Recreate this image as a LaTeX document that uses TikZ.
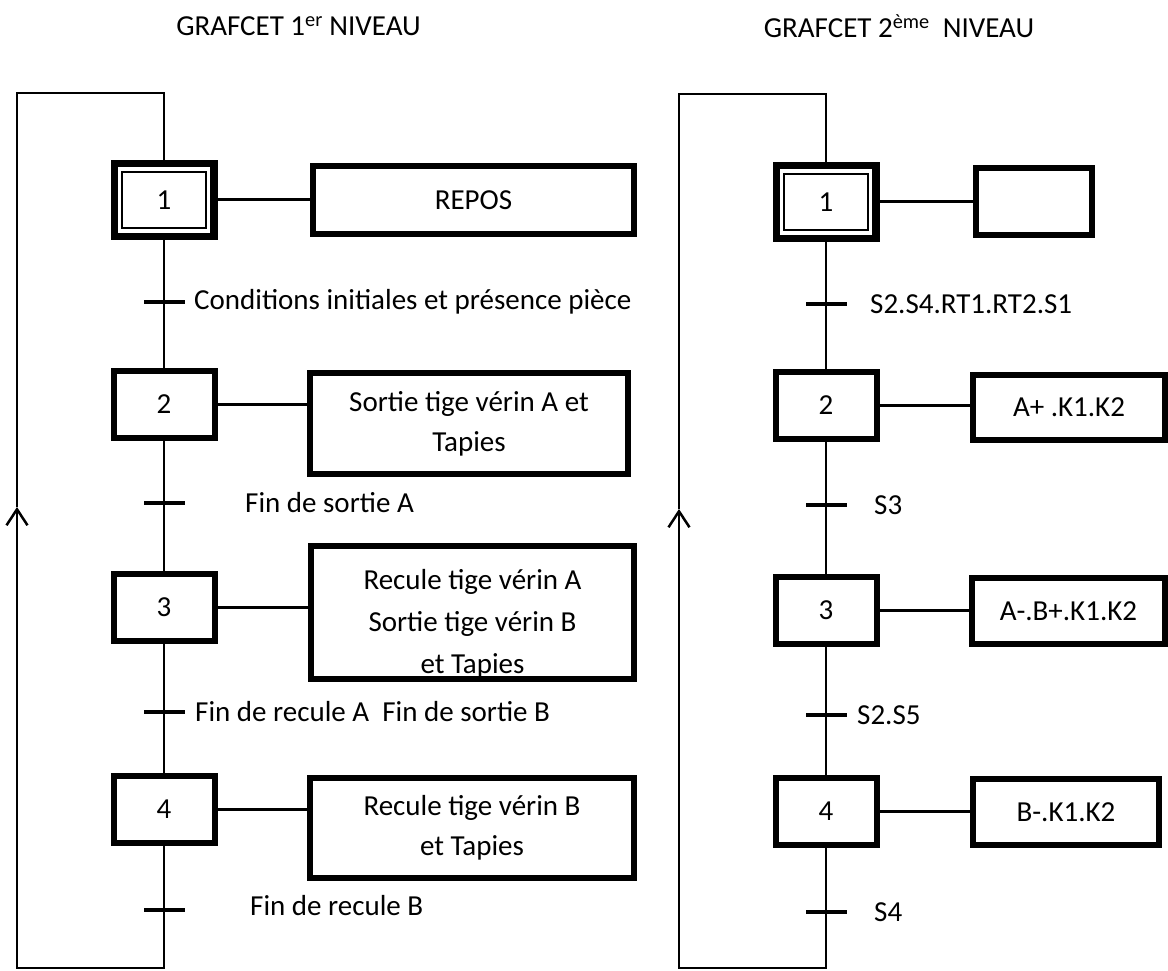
\documentclass[tikz,border=0pt]{standalone}
\usepackage{fontspec}
\setmainfont{Carlito}
\usetikzlibrary{arrows.meta}

\begin{document}
\begin{tikzpicture}[x=1pt, y=-1pt,
  gtext/.style={font=\fontsize{29}{40}\selectfont, inner sep=0pt},
  stepbox/.style={draw, line width=6pt, minimum width=101pt, minimum height=67pt,
                  inner sep=0pt, outer sep=0pt, gtext},
  initstep/.style={stepbox, line width=7.5pt, minimum width=99.5pt, minimum height=72.5pt},
  initinner/.style={draw, line width=2.5pt, minimum width=84pt, minimum height=56pt,
                    inner sep=0pt, outer sep=0pt, gtext},
  actbox/.style={draw, line width=6pt, inner sep=0pt, outer sep=0pt, align=center, gtext},
  tick/.style={fill=black, minimum width=41pt, minimum height=4pt, inner sep=0pt, outer sep=0pt},
  cond/.style={gtext, anchor=west},
  conn/.style={line width=2.5pt},
  link/.style={line width=3pt},
  barb/.style={-{Straight Barb[length=16pt,width=21pt]}}
]
\useasboundingbox (0,0) rectangle (1168,971);

% ---------- titles ----------
\node[gtext] (title1) at (298.5,26) {GRAFCET 1\textsuperscript{er} NIVEAU};
\node[gtext] (title2) at (899,26) {GRAFCET 2\textsuperscript{ème}\ \ NIVEAU};

% ---------- first level ----------
\node[initstep] (L1) at (164,200) {};
\node[initinner] (L1in) at (L1) {1};
\node[stepbox] (L2) at (164,404) {2};
\node[stepbox] (L3) at (164,607) {3};
\node[stepbox] (L4) at (164,809.5) {4};

\node[actbox, minimum width=321pt, minimum height=68pt] (LA1) at (473.5,200) {REPOS};
\node[actbox, minimum width=318pt, minimum height=101pt] (LA2) at (469,423.5)
  {Sortie tige vérin A et\\Tapies};
% the last line of this action runs into the frame, so the text goes first
\node[gtext, align=center, font=\fontsize{29}{42}\selectfont] (LA3t) at (472.5,623.5)
  {Recule tige vérin A\\Sortie tige vérin B\\et Tapies};
\node[actbox, minimum width=323pt, minimum height=133pt] (LA3) at (472.5,612.5) {};
\node[actbox, minimum width=324pt, minimum height=100pt] (LA4) at (472,828)
  {Recule tige vérin B\\et Tapies};

\node[tick] (LT1) at (164,302) {};
\node[tick] (LT2) at (164,503) {};
\node[tick] (LT3) at (164,712) {};
\node[tick] (LT4) at (164,910) {};

\node[cond] (LC1) at (194,302) {Conditions initiales et présence pièce};
\node[cond] (LC2) at (245,503) {Fin de sortie A};
\node[cond] (LC3) at (195,712) {Fin de recule A\ \ Fin de sortie B};
\node[cond] (LC4) at (250,906) {Fin de recule B};

\coordinate (LB)   at (164,968);
\coordinate (LBL)  at (17,968);
\coordinate (LARR) at (17,507);
\coordinate (LTL)  at (17,93);
\coordinate (LTR)  at (164,93);

\draw[conn] (L1.south) -- (LT1) -- (L2.north);
\draw[conn] (L2.south) -- (LT2) -- (L3.north);
\draw[conn] (L3.south) -- (LT3) -- (L4.north);
\draw[conn, barb] (L4.south) -- (LT4) -- (LB) -- (LBL) -- (LARR);
\draw[conn] (LARR) -- (LTL) -- (LTR) -- (L1.north);

\draw[link] (L1.east) -- (L1.east -| LA1.west);
\draw[link] (L2.east) -- (L2.east -| LA2.west);
\draw[link] (L3.east) -- (L3.east -| LA3.west);
\draw[link] (L4.east) -- (L4.east -| LA4.west);

% ---------- second level ----------
\node[initstep] (R1) at (826,202) {};
\node[initinner] (R1in) at (R1) {1};
\node[stepbox] (R2) at (826,405) {2};
\node[stepbox] (R3) at (826,610) {3};
\node[stepbox] (R4) at (826,811) {4};

\node[actbox, minimum width=116pt, minimum height=67pt] (RA1) at (1034,201.5) {};
\node[actbox, minimum width=192pt, minimum height=65pt] (RA2) at (1069,407.5) {A+ .K1.K2};
\node[actbox, minimum width=193pt, minimum height=66pt] (RA3) at (1068.5,611) {A-.B+.K1.K2};
\node[actbox, minimum width=186pt, minimum height=66pt] (RA4) at (1066,812) {B-.K1.K2};

\node[tick] (RT1) at (826,304) {};
\node[tick] (RT2) at (826,505) {};
\node[tick] (RT3) at (826,715) {};
\node[tick] (RT4) at (826,912) {};

\node[cond] (RC1) at (870,304) {S2.S4.RT1.RT2.S1};
\node[cond] (RC2) at (874,505) {S3};
\node[cond] (RC3) at (857,715) {S2.S5};
\node[cond] (RC4) at (874,912) {S4};

\coordinate (RB)   at (826,968);
\coordinate (RBL)  at (679,968);
\coordinate (RARR) at (679,509);
\coordinate (RTL)  at (679,94);
\coordinate (RTR)  at (826,94);

\draw[conn] (R1.south) -- (RT1) -- (R2.north);
\draw[conn] (R2.south) -- (RT2) -- (R3.north);
\draw[conn] (R3.south) -- (RT3) -- (R4.north);
\draw[conn, barb] (R4.south) -- (RT4) -- (RB) -- (RBL) -- (RARR);
\draw[conn] (RARR) -- (RTL) -- (RTR) -- (R1.north);

\draw[link] (R1.east) -- (R1.east -| RA1.west);
\draw[link] (R2.east) -- (R2.east -| RA2.west);
\draw[link] (R3.east) -- (R3.east -| RA3.west);
\draw[link] (R4.east) -- (R4.east -| RA4.west);
\end{tikzpicture}
\end{document}
